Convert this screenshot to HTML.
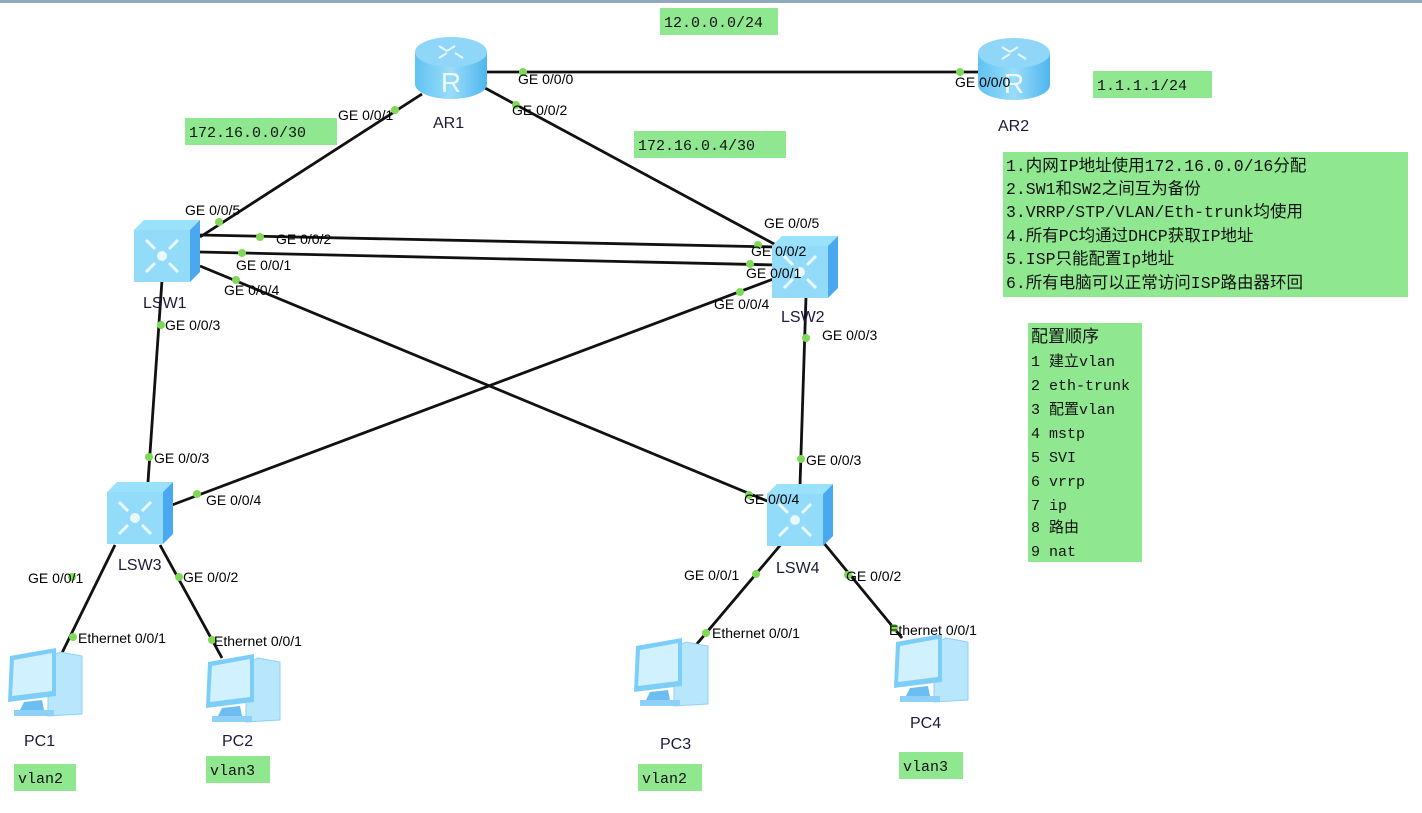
<!DOCTYPE html>
<html><head><meta charset="utf-8"><style>
html,body{margin:0;padding:0;background:#fff;}
svg{display:block;}
.l{font-family:"Liberation Sans",Arial,sans-serif;font-size:14px;fill:#000;}
.n{font-family:"Liberation Sans",Arial,sans-serif;font-size:16px;fill:#1a1a3a;}
.m{font-family:"Liberation Mono","Noto Sans CJK SC",monospace;font-size:15px;fill:#111;}
.c{font-family:"Liberation Mono","Noto Sans CJK SC",monospace;font-size:16.5px;fill:#111;}
</style></head><body>
<svg width="1422" height="813" viewBox="0 0 1422 813" xmlns="http://www.w3.org/2000/svg">
<defs>
<linearGradient id="rg" x1="0" x2="1"><stop offset="0" stop-color="#5fc3f2"/><stop offset="0.5" stop-color="#9adcfa"/><stop offset="1" stop-color="#4fb6ee"/></linearGradient>
<g id="router">
  <path d="M0 16 L0 48 A36 15 0 0 0 72 48 L72 16 Z" fill="url(#rg)"/>
  <ellipse cx="36" cy="16" rx="36" ry="15" fill="#8fd6f8"/>
  <g stroke="#e8f8ff" stroke-width="2" fill="none"><path d="M24 10 l8 5 M40 10 l-8 5 M24 22 l8 -5 M48 22 l-8 -5"/></g>
  <text x="36" y="56" text-anchor="middle" font-family="Liberation Sans,sans-serif" font-size="28" fill="#eefaff">R</text>
</g>
<g id="sw">
  <path d="M0 10 L10 0 L66 0 L56 10 Z" fill="#9ae2fb"/>
  <path d="M56 10 L66 0 L66 52 L56 62 Z" fill="#4aa8f0"/>
  <rect x="0" y="10" width="56" height="52" fill="#92dcfa"/>
  <circle cx="28" cy="36" r="5" fill="#eaf8ff"/>
  <g stroke="#eaf8ff" stroke-width="3" fill="none"><path d="M12 20 l9 9 M44 20 l-9 9 M12 52 l9 -9 M44 52 l-9 -9"/></g>
</g>
<g id="pc">
  <path d="M44 10 L56 4 L78 8 L78 66 L44 68 Z" fill="#b8e6fd" stroke="#8fd0f5"/>
  <path d="M6 8 L52 0 L52 48 L4 54 Z" fill="#7ccef9"/>
  <path d="M10 12 L48 5 L48 43 L8 48 Z" fill="#d2f1fe"/>
  <path d="M20 54 L38 52 L40 62 L14 66 Z" fill="#6cbef2"/>
  <rect x="10" y="62" width="40" height="6" fill="#8fd0f8"/>
</g>
</defs>
<rect x="0" y="0" width="1422" height="3" fill="#93a7bf"/>
<g stroke="#111" stroke-width="2.8" fill="none">
<line x1="485" y1="72" x2="980" y2="72"/>
<line x1="422" y1="94" x2="200" y2="237"/>
<line x1="485" y1="88" x2="776" y2="245"/>
<line x1="200" y1="235" x2="776" y2="247"/>
<line x1="200" y1="252" x2="776" y2="265"/>
<line x1="200" y1="266" x2="772" y2="503"/>
<line x1="776" y1="278" x2="172" y2="505"/>
<line x1="162" y1="280" x2="148" y2="482"/>
<line x1="806" y1="297" x2="800" y2="485"/>
<line x1="115" y1="545" x2="60" y2="657"/>
<line x1="160" y1="545" x2="222" y2="658"/>
<line x1="783" y1="542" x2="696" y2="645"/>
<line x1="823" y1="542" x2="902" y2="638"/>
</g>
<use href="#router" x="415" y="36"/>
<use href="#router" x="978" y="37"/>
<use href="#sw" x="134" y="220"/>
<use href="#sw" x="772" y="236"/>
<use href="#sw" x="107" y="482"/>
<use href="#sw" x="767" y="484"/>
<use href="#pc" x="4" y="648"/>
<use href="#pc" x="202" y="654"/>
<use href="#pc" x="630" y="638"/>
<use href="#pc" x="890" y="634"/>
<g fill="#7ed957">
<circle cx="523" cy="72" r="4"/><circle cx="960" cy="72" r="4"/>
<circle cx="395" cy="110" r="4"/><circle cx="516" cy="105" r="4"/>
<circle cx="219" cy="222" r="4"/><circle cx="260" cy="237" r="4"/><circle cx="242" cy="253" r="4"/><circle cx="236" cy="280" r="4"/>
<circle cx="758" cy="245" r="4"/><circle cx="750" cy="264" r="4"/><circle cx="740" cy="292" r="4"/>
<circle cx="161" cy="325" r="4"/><circle cx="806" cy="338" r="4"/>
<circle cx="149" cy="457" r="4"/><circle cx="197" cy="494" r="4"/>
<circle cx="801" cy="459" r="4"/><circle cx="749" cy="495" r="4"/>
<circle cx="72" cy="577" r="4"/><circle cx="179" cy="577" r="4"/>
<circle cx="756" cy="574" r="4"/><circle cx="848" cy="575" r="4"/>
<circle cx="73" cy="637" r="4"/><circle cx="212" cy="640" r="4"/>
<circle cx="706" cy="633" r="4"/><circle cx="894" cy="628" r="4"/>
</g>
<g class="l">
<text x="518" y="84">GE 0/0/0</text><text x="955" y="87">GE 0/0/0</text>
<text x="338" y="120">GE 0/0/1</text><text x="512" y="115">GE 0/0/2</text>
<text x="185" y="215">GE 0/0/5</text><text x="276" y="244">GE 0/0/2</text><text x="236" y="270">GE 0/0/1</text><text x="224" y="295">GE 0/0/4</text>
<text x="764" y="228">GE 0/0/5</text><text x="751" y="256">GE 0/0/2</text><text x="746" y="278">GE 0/0/1</text><text x="714" y="309">GE 0/0/4</text>
<text x="165" y="330">GE 0/0/3</text><text x="822" y="340">GE 0/0/3</text>
<text x="154" y="463">GE 0/0/3</text><text x="206" y="505">GE 0/0/4</text>
<text x="806" y="465">GE 0/0/3</text><text x="744" y="504">GE 0/0/4</text>
<text x="28" y="583">GE 0/0/1</text><text x="183" y="582">GE 0/0/2</text>
<text x="684" y="580">GE 0/0/1</text><text x="846" y="581">GE 0/0/2</text>
<text x="78" y="643">Ethernet 0/0/1</text><text x="214" y="646">Ethernet 0/0/1</text>
<text x="712" y="638">Ethernet 0/0/1</text><text x="889" y="635">Ethernet 0/0/1</text>
</g>
<g class="n">
<text x="433" y="128">AR1</text><text x="998" y="131">AR2</text>
<text x="143" y="308">LSW1</text><text x="781" y="322">LSW2</text>
<text x="118" y="570">LSW3</text><text x="776" y="573">LSW4</text>
<text x="24" y="746">PC1</text><text x="222" y="746">PC2</text>
<text x="660" y="749">PC3</text><text x="910" y="728">PC4</text>
</g>
<g fill="#8fe88f">
<rect x="660" y="8" width="118" height="27"/>
<rect x="1093" y="71" width="119" height="27"/>
<rect x="185" y="118" width="152" height="27"/>
<rect x="634" y="131" width="152" height="27"/>
<rect x="1003" y="152" width="405" height="145"/>
<rect x="1028" y="323" width="114" height="239"/>
<rect x="14" y="764" width="62" height="27"/>
<rect x="206" y="756" width="64" height="27"/>
<rect x="638" y="764" width="64" height="27"/>
<rect x="899" y="752" width="64" height="27"/>
</g>
<g class="m">
<text x="664" y="27">12.0.0.0/24</text>
<text x="1097" y="90">1.1.1.1/24</text>
<text x="189" y="137">172.16.0.0/30</text>
<text x="638" y="150">172.16.0.4/30</text>
<text x="18" y="783">vlan2</text>
<text x="210" y="775">vlan3</text>
<text x="642" y="783">vlan2</text>
<text x="903" y="771">vlan3</text>
</g>
<g class="c">
<text x="1006" y="171">1.内网IP地址使用172.16.0.0/16分配</text>
<text x="1006" y="194">2.SW1和SW2之间互为备份</text>
<text x="1006" y="217">3.VRRP/STP/VLAN/Eth-trunk均使用</text>
<text x="1006" y="241">4.所有PC均通过DHCP获取IP地址</text>
<text x="1006" y="264">5.ISP只能配置Ip地址</text>
<text x="1006" y="288">6.所有电脑可以正常访问ISP路由器环回</text>
</g>
<g class="m">
<text x="1031" y="342" font-size="17">配置顺序</text>
<text x="1031" y="366">1 建立vlan</text>
<text x="1031" y="390">2 eth-trunk</text>
<text x="1031" y="414">3 配置vlan</text>
<text x="1031" y="438">4 mstp</text>
<text x="1031" y="462">5 SVI</text>
<text x="1031" y="486">6 vrrp</text>
<text x="1031" y="510">7 ip</text>
<text x="1031" y="532">8 路由</text>
<text x="1031" y="556">9 nat</text>
</g>
</svg>
</body></html>
